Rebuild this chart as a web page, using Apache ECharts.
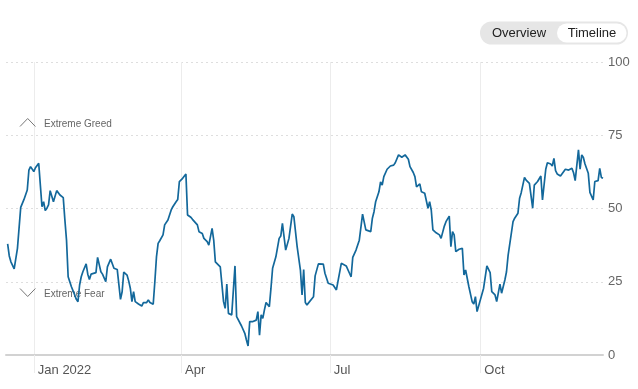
<!DOCTYPE html>
<html><head><meta charset="utf-8">
<script src="https://cdn.jsdelivr.net/npm/echarts@6/dist/echarts.min.js"></script>
<style>html,body{margin:0;padding:0;background:#fff}#c{width:638px;height:389px}</style>
</head><body><div id="c"></div>
<script>
// Fear & Greed index, Dec 2021 - Dec 2022
const dates = [
'2021-12-16','2021-12-17','2021-12-18','2021-12-20','2021-12-22','2021-12-24','2021-12-26','2021-12-28','2021-12-29','2021-12-30','2021-12-31',
'2022-01-01','2022-01-02','2022-01-04','2022-01-05','2022-01-06','2022-01-07','2022-01-08','2022-01-09','2022-01-10','2022-01-11','2022-01-12','2022-01-13','2022-01-15','2022-01-17','2022-01-19','2022-01-20','2022-01-21','2022-01-22','2022-01-23','2022-01-24','2022-01-26','2022-01-27','2022-01-28','2022-01-29','2022-01-30','2022-01-31',
'2022-02-02','2022-02-03','2022-02-04','2022-02-05','2022-02-06','2022-02-08','2022-02-09','2022-02-10','2022-02-11','2022-02-12','2022-02-14','2022-02-15','2022-02-17','2022-02-19','2022-02-21','2022-02-22','2022-02-23','2022-02-24','2022-02-25','2022-02-27','2022-02-28',
'2022-03-01','2022-03-02','2022-03-03','2022-03-04','2022-03-06','2022-03-08','2022-03-09','2022-03-11','2022-03-12','2022-03-13','2022-03-15','2022-03-16','2022-03-17','2022-03-18','2022-03-19','2022-03-21','2022-03-22','2022-03-24','2022-03-26','2022-03-27','2022-03-29','2022-03-30','2022-03-31',
'2022-04-02','2022-04-04','2022-04-05','2022-04-07','2022-04-08','2022-04-11','2022-04-12','2022-04-14','2022-04-15','2022-04-17','2022-04-18','2022-04-20','2022-04-21','2022-04-22','2022-04-25','2022-04-26','2022-04-27','2022-04-28','2022-04-29','2022-04-30',
'2022-05-02','2022-05-03','2022-05-04','2022-05-05','2022-05-08','2022-05-10','2022-05-11','2022-05-12','2022-05-13','2022-05-15','2022-05-17','2022-05-18','2022-05-19','2022-05-20','2022-05-21','2022-05-22','2022-05-23','2022-05-25','2022-05-26','2022-05-27','2022-05-29','2022-05-31',
'2022-06-01','2022-06-02','2022-06-04','2022-06-06','2022-06-08','2022-06-09','2022-06-11','2022-06-13','2022-06-14','2022-06-15','2022-06-16','2022-06-17','2022-06-21','2022-06-22','2022-06-23','2022-06-24','2022-06-27','2022-06-28','2022-06-30',
'2022-07-03','2022-07-05','2022-07-06','2022-07-08','2022-07-11','2022-07-13','2022-07-14','2022-07-15','2022-07-17','2022-07-19','2022-07-21','2022-07-23','2022-07-26','2022-07-27','2022-07-28','2022-07-29','2022-07-31',
'2022-08-01','2022-08-02','2022-08-03','2022-08-05','2022-08-07','2022-08-09','2022-08-10','2022-08-12','2022-08-14','2022-08-15','2022-08-16','2022-08-18','2022-08-19','2022-08-21','2022-08-22','2022-08-23','2022-08-24','2022-08-25','2022-08-26','2022-08-28','2022-08-29','2022-08-30','2022-08-31',
'2022-09-01','2022-09-02','2022-09-04','2022-09-06','2022-09-07','2022-09-09','2022-09-10','2022-09-12','2022-09-13','2022-09-14','2022-09-15','2022-09-16','2022-09-18','2022-09-20','2022-09-21','2022-09-22','2022-09-24','2022-09-26','2022-09-27','2022-09-28','2022-09-29','2022-09-30',
'2022-10-03','2022-10-05','2022-10-06','2022-10-07','2022-10-08','2022-10-09','2022-10-10','2022-10-11','2022-10-12','2022-10-13','2022-10-14','2022-10-16','2022-10-17','2022-10-18','2022-10-19','2022-10-21','2022-10-22','2022-10-24','2022-10-25','2022-10-26','2022-10-28','2022-10-29','2022-10-31',
'2022-11-01','2022-11-02','2022-11-03','2022-11-05','2022-11-07','2022-11-08','2022-11-10','2022-11-11','2022-11-13','2022-11-14','2022-11-15','2022-11-16','2022-11-17','2022-11-19','2022-11-22','2022-11-23','2022-11-24','2022-11-26','2022-11-27','2022-11-28','2022-11-30',
'2022-12-01','2022-12-02','2022-12-03','2022-12-04','2022-12-06','2022-12-07','2022-12-08','2022-12-09','2022-12-10','2022-12-11','2022-12-12','2022-12-13','2022-12-14','2022-12-15'
];
const values = [
37.9,33.8,31.8,29.4,36.4,50.4,53.1,56.3,63.1,64.3,63.9,
62.6,63.9,65.4,64.8,50.6,52.3,49.3,50.1,51.2,56.1,56.1,52.3,56.1,54.6,53.7,46.1,39.2,26.7,25,23.3,20.5,19,18.2,23.9,26.7,28.4,
31.1,27.6,25.8,27.6,27.9,28.1,33.3,33.8,28.4,27.6,25,30.1,32.7,29.6,29.2,29,19,21.6,28.3,27.3,25.3,
22.8,18.2,21.6,18.2,17.4,16.7,17.9,17.9,18.8,17.9,17.3,25,33.5,38.1,39,41,44.4,46.1,49.5,50.6,52.3,53.1,59.2,
60.3,61.8,47.8,47,46.3,44.4,42.1,41.5,39.8,38.7,37.5,43.2,39.2,31.8,30.1,29.6,18.2,15.9,24.2,14.2,
13.7,13.3,30.4,13.1,9.9,7.4,5.1,3.1,11.4,11.4,11.9,14.8,6.8,13.7,12.5,15.4,17.9,16.5,22.8,29.6,33.5,39.8,
40.6,44.9,35.8,39.8,48.1,47.2,37,29,20.5,29.2,17.9,17.1,19.9,27,27,31.1,31,27.9,24.5,
23.9,22.2,22.8,31.3,30.4,27.9,26.7,33.3,35.8,39.2,48.1,42.7,42.1,46.7,48.9,52.3,55.7,
59.1,58,60.9,63.4,64.5,64.8,65.6,68.3,67.5,67.1,68.3,66.8,64.3,62.3,60.9,57.4,57.4,58.4,55.7,55.2,54.6,50.1,52.3,
49.5,42.7,41.7,41,39.8,44,45.5,47.4,37,42.1,41,35.3,36.1,36.4,27.3,29,23.3,18.2,17.4,19.9,14.8,15.4,
22.8,30.4,31,28.1,21.6,21.1,20.5,18.2,18.2,24.2,21.1,25.6,28.4,34.1,34.4,45.5,46.7,48.4,53.5,55.4,60.6,59.7,58.6,
58.4,50.1,58,59.2,61.1,52.9,63.4,65.6,65.2,64.5,67.1,62.9,61.8,61.1,63.4,62.9,63.1,63.7,62.2,59.5,70,
63.4,68.3,67.4,65.2,62,55.5,55.4,52.9,59.2,58.8,59.5,63.7,60.6,60.3
];
const axisStart = '2021-12-15';
const axisEnd = '2022-12-15';
const xTickDates = ['2022-01-01','2022-04-01','2022-07-01','2022-10-01'];
const xTickLabels = ['Jan 2022','Apr','Jul','Oct'];
const yMin = 0, yMax = 100, yStep = 25;
const zoneLabels = ['Extreme Greed','Extreme Fear'];
const buttonLabels = ['Overview','Timeline'];

function t(s){const p=s.split('-').map(Number);return Date.UTC(p[0],p[1]-1,p[2]);}
const tickTimes = xTickDates.map(t);
const FONT = '"Liberation Sans", Arial, sans-serif';

const chart = echarts.init(document.getElementById('c'), null, {renderer:'canvas'});
chart.setOption({
  animation:false,
  backgroundColor:'#ffffff',
  grid:{left:6,right:35,top:62,bottom:34,containLabel:false},
  xAxis:{
    type:'value', min:t(axisStart), max:t(axisEnd), scale:true,
    axisLine:{show:true,lineStyle:{color:'#d2d2d2',width:2}},
    axisTick:{show:true,customValues:tickTimes,length:18,lineStyle:{color:'#ececec',width:1}},
    splitLine:{show:true,lineStyle:{color:'#ececec',width:1,type:'solid'}},
    axisLabel:{customValues:tickTimes,align:'left',padding:[0,0,0,4],margin:9,color:'#555',fontSize:13,fontFamily:FONT,
      formatter:function(v){const i=tickTimes.indexOf(v);return i>=0?xTickLabels[i]:'';}}
  },
  yAxis:{
    type:'value', position:'right', min:yMin, max:yMax, interval:yStep,
    axisLine:{show:false}, axisTick:{show:false},
    splitLine:{show:true,lineStyle:{color:'#dedede',width:1,type:[2,3]}},
    axisLabel:{margin:5,color:'#666',fontSize:13,fontFamily:FONT}
  },
  series:[{
    type:'line', data:dates.map((d,i)=>[t(d),values[i]]),
    showSymbol:false, symbol:'none', smooth:false,
    lineStyle:{color:'#13689b',width:1.7},
    z:5
  }],
  graphic:[
    {type:'rect',shape:{x:480,y:21.5,width:148,height:23,r:11.5},style:{fill:'#e6e6e6'},z:10},
    {type:'rect',shape:{x:557,y:23.5,width:69.5,height:19,r:9.5},style:{fill:'#ffffff'},z:11},
    {type:'text',x:519,y:33,style:{text:buttonLabels[0],fill:'#222',font:'13px '+FONT,align:'center',verticalAlign:'middle'},z:12},
    {type:'text',x:592,y:33,style:{text:buttonLabels[1],fill:'#222',font:'13px '+FONT,align:'center',verticalAlign:'middle'},z:12},
    {type:'polyline',shape:{points:[[20,126.5],[27.7,118.5],[35.4,126.5]]},style:{stroke:'#777',lineWidth:1,fill:null},z:10},
    {type:'text',x:44,y:124,style:{text:zoneLabels[0],fill:'#666',font:'10px '+FONT,verticalAlign:'middle'},z:10},
    {type:'polyline',shape:{points:[[20,288.5],[27.7,296.5],[35.4,288.5]]},style:{stroke:'#777',lineWidth:1,fill:null},z:10},
    {type:'text',x:44,y:294,style:{text:zoneLabels[1],fill:'#666',font:'10px '+FONT,verticalAlign:'middle'},z:1}
  ]
});
</script></body></html>
